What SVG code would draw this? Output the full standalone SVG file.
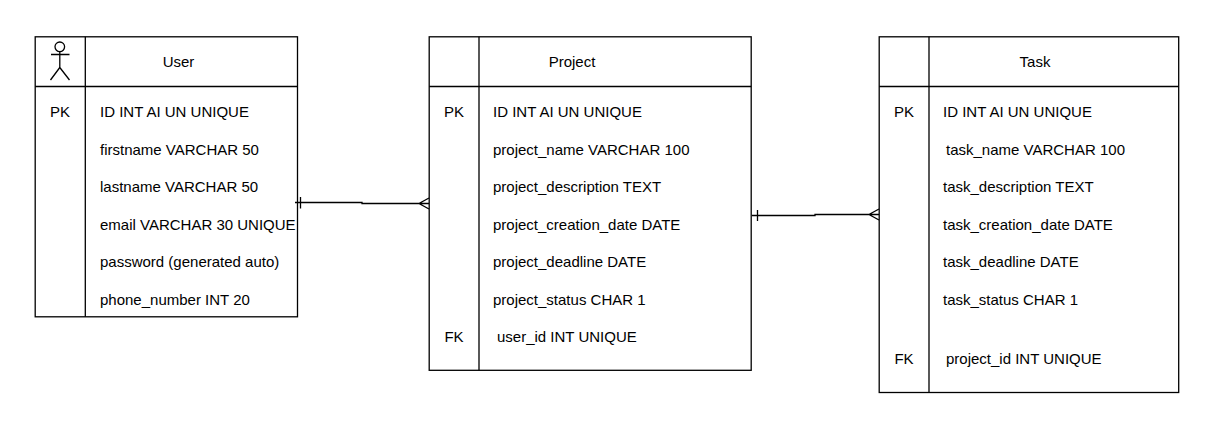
<svg xmlns="http://www.w3.org/2000/svg" width="1212" height="431" viewBox="0 0 1212 431">
<style>
.b{fill:#fff;stroke:#000;stroke-width:1.300}
.l{fill:none;stroke:#000;stroke-width:1.300}
text{font-family:"Liberation Sans",Arial,sans-serif;font-size:15px;fill:#000}
.c{text-anchor:middle}
</style>
<rect width="1212" height="431" fill="#fff"/>
<g id="user">
<rect class="b" x="35.200" y="36.800" width="262.300" height="280"/>
<path class="l" d="M85.300 36.800V316.800M35.200 86.500H297.500"/>
<circle cx="59.800" cy="46.800" r="4.800" class="l"/><path class="l" d="M59.800 51.600V67.500M51 54.500H69.500M59.800 67.500L50.500 80M59.800 67.500L69.500 80"/>
<text class="c" x="178.500" y="66.500">User</text>
<text class="c" x="60" y="117">PK</text>
<text x="100" y="117">ID INT AI UN UNIQUE</text>
<text x="100" y="154.500">firstname VARCHAR 50</text>
<text x="100" y="192">lastname VARCHAR 50</text>
<text x="100" y="230">email VARCHAR 30 UNIQUE</text>
<text x="100" y="267">password (generated auto)</text>
<text x="100" y="305">phone_number INT 20</text>
</g>
<g id="project">
<rect class="b" x="429.200" y="36.800" width="322" height="333.500"/>
<path class="l" d="M479 36.800V370.300M429.200 86.500H751.200"/>
<text class="c" x="572" y="66.500">Project</text>
<text class="c" x="454" y="117">PK</text>
<text x="493" y="117">ID INT AI UN UNIQUE</text>
<text x="493" y="154.500">project_name VARCHAR 100</text>
<text x="493" y="192">project_description TEXT</text>
<text x="493" y="230">project_creation_date DATE</text>
<text x="493" y="267">project_deadline DATE</text>
<text x="493" y="305">project_status CHAR 1</text>
<text class="c" x="454" y="342">FK</text>
<text x="497" y="342">user_id INT UNIQUE</text>
</g>
<g id="task">
<rect class="b" x="879.200" y="36.800" width="299.500" height="355.700"/>
<path class="l" d="M929 36.800V392.500M879.200 86.500H1178.700"/>
<text class="c" x="1035" y="66.500">Task</text>
<text class="c" x="904" y="117">PK</text>
<text x="943" y="117">ID INT AI UN UNIQUE</text>
<text x="946" y="154.500">task_name VARCHAR 100</text>
<text x="943" y="192">task_description TEXT</text>
<text x="943" y="230">task_creation_date DATE</text>
<text x="943" y="267">task_deadline DATE</text>
<text x="943" y="305">task_status CHAR 1</text>
<text class="c" x="904" y="364">FK</text>
<text x="946" y="364">project_id INT UNIQUE</text>
</g>
<g id="connectors">
<path class="l" d="M295 202.500H362V203.500H429M300.500 197V208.500M429 198L419 203.500L429 209"/>
<path class="l" d="M752 215.500H815V214.500H879M757.500 210V221M879 209L869 214.500L879 220"/>
</g>
</svg>
